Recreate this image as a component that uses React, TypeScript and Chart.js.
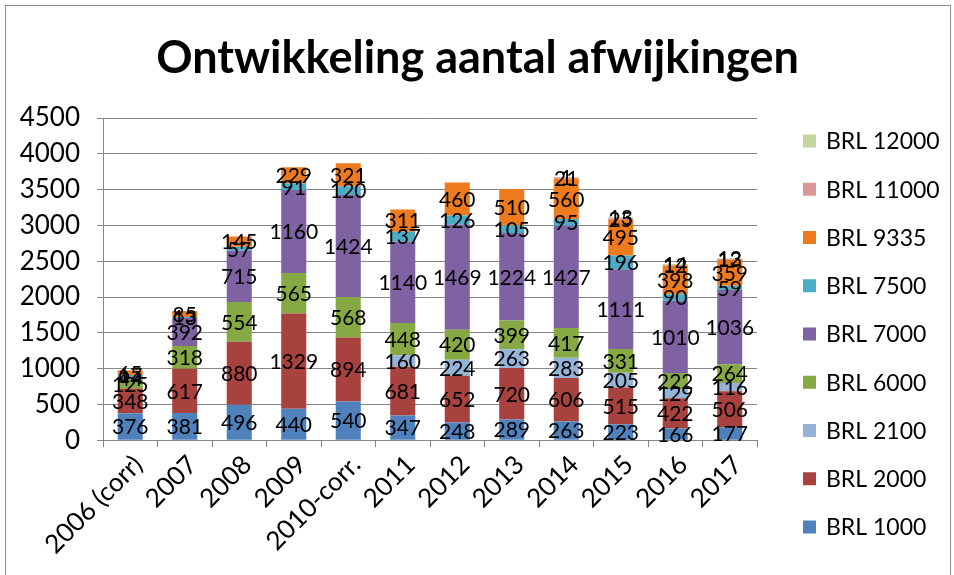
import React, { useEffect, useRef } from "react";
import { Chart, registerables } from "chart.js";

Chart.register(...registerables);

const years = ["2006 (corr)", "2007", "2008", "2009", "2010-corr.", "2011", "2012", "2013", "2014", "2015", "2016", "2017"];
const brl1000 = [376, 381, 496, 440, 540, 347, 248, 289, 263, 223, 166, 177];
const brl2000 = [348, 617, 880, 1329, 894, 681, 652, 720, 606, 515, 422, 506];
const brl2100 = [null, null, null, null, null, 160, 224, 263, 283, 205, 129, 116];
const brl6000 = [125, 318, 554, 565, 568, 448, 420, 399, 417, 331, 222, 264];
const brl7000 = [44, 392, 715, 1160, 1424, 1140, 1469, 1224, 1427, 1111, 1010, 1036];
const brl7500 = [17, 13, 57, 91, 120, 137, 126, 105, 95, 196, 90, 59];
const brl9335 = [65, 85, 145, 229, 321, 311, 460, 510, 560, 495, 398, 359];
const brl11000 = [null, null, null, null, null, null, null, null, 21, 25, 12, 13];
const brl12000 = [null, null, null, null, null, null, null, null, 1, 13, 14, 12];

const seriesNames = ["BRL 1000", "BRL 2000", "BRL 2100", "BRL 6000", "BRL 7000", "BRL 7500", "BRL 9335", "BRL 11000", "BRL 12000"];
const seriesColors = ["#4F81BD", "#A8423F", "#95B3D7", "#86A944", "#7F62A2", "#4BACC6", "#EE7A1E", "#D99795", "#C3D69B"];
const yTicks = { min: 0, max: 4500, step: 500 };

const FONT = "Lato, 'Open Sans', sans-serif";

const valueLabels = {
  id: "valueLabels",
  afterDatasetsDraw(chart: any) {
    const ctx = chart.ctx;
    ctx.save();
    ctx.font = `21px ${FONT}`;
    ctx.fillStyle = "#000";
    ctx.textAlign = "center";
    ctx.textBaseline = "middle";
    chart.data.datasets.forEach((ds: any, i: number) => {
      const meta = chart.getDatasetMeta(i);
      meta.data.forEach((el: any, j: number) => {
        const v = ds.data[j];
        if (v == null) return;
        const p = el.getProps(["x", "y", "base"], true);
        ctx.fillText(String(v), p.x, (p.y + p.base) / 2 + 1);
      });
    });
    ctx.restore();
  },
};

const sideLegend = {
  id: "sideLegend",
  afterDraw(chart: any) {
    const ctx = chart.ctx;
    const ca = chart.chartArea;
    const x0 = ca.right + 46;
    let y = ca.top + 23;
    ctx.save();
    ctx.font = `23px ${FONT}`;
    ctx.textAlign = "left";
    ctx.textBaseline = "middle";
    const ds = chart.data.datasets;
    for (let i = ds.length - 1; i >= 0; i--) {
      ctx.fillStyle = ds[i].backgroundColor;
      ctx.fillRect(x0, y - 6.5, 13, 13);
      ctx.fillStyle = "#000";
      ctx.fillText(ds[i].label, x0 + 23, y + 1);
      y += 48.25;
    }
    ctx.restore();
  },
};

export default function App() {
  const ref = useRef<HTMLCanvasElement>(null);
  useEffect(() => {
    const series = [brl1000, brl2000, brl2100, brl6000, brl7000, brl7500, brl9335, brl11000, brl12000];
    const chart = new Chart(ref.current as HTMLCanvasElement, {
      type: "bar",
      data: {
        labels: years,
        datasets: series.map((d, i) => ({
          label: seriesNames[i],
          data: d,
          backgroundColor: seriesColors[i],
          borderWidth: 0,
          barPercentage: 0.46,
          categoryPercentage: 1,
        })),
      },
      plugins: [valueLabels, sideLegend],
      options: {
        responsive: false,
        devicePixelRatio: 1,
        animation: false,
        layout: { padding: { left: 5, right: 4, top: 4, bottom: 13 } },
        plugins: {
          legend: { display: false },
          tooltip: { enabled: false },
          title: {
            display: true,
            text: "Ontwikkeling aantal afwijkingen",
            color: "#000",
            font: { family: FONT, size: 45, weight: "bold" },
            padding: { top: 27, bottom: 33 },
          },
        },
        scales: {
          x: {
            stacked: true,
            grid: { drawOnChartArea: false, drawTicks: true, tickLength: 7, color: "#868686" },
            border: { color: "#868686" },
            ticks: {
              color: "#000",
              font: { family: FONT, size: 26 },
              minRotation: 45,
              maxRotation: 45,
              autoSkip: false,
              padding: 2,
              labelOffset: 8,
            },
          },
          y: {
            stacked: true,
            min: yTicks.min,
            max: yTicks.max,
            grid: { color: "#868686", tickLength: 6 },
            border: { color: "#868686" },
            ticks: {
              stepSize: yTicks.step,
              color: "#000",
              font: { family: FONT, size: 26 },
              padding: 17,
              callback: (v: any) => String(v),
            },
            afterFit: (scale: any) => {
              scale.width = 98;
            },
          },
          yRight: {
            type: "linear",
            position: "right",
            display: true,
            grid: { display: false },
            border: { display: false },
            ticks: { display: false },
            afterFit: (scale: any) => {
              scale.width = 193;
            },
          },
        },
      } as any,
    });
    return () => chart.destroy();
  }, []);
  return (
    <div style={{ position: "absolute", left: 0, top: 0, width: 954, height: 575, overflow: "hidden", background: "#fff" }}>
      <div style={{ position: "absolute", left: 5, top: 5, width: 944, height: 600, border: "1px solid #8c8c8c" }} />
      <canvas ref={ref} width={954} height={575} style={{ position: "absolute", left: 0, top: 0 }} />
    </div>
  );
}
